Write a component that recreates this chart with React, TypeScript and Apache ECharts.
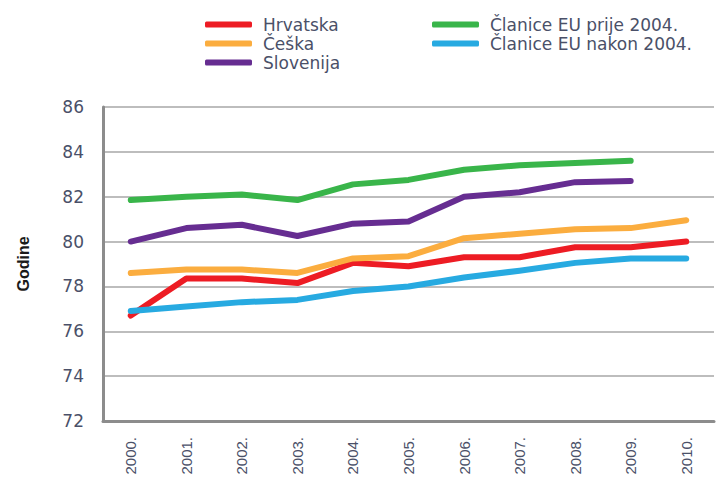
import React, { useEffect, useRef } from "react";
import * as echarts from "echarts";

const years = ["2000.", "2001.", "2002.", "2003.", "2004.", "2005.", "2006.", "2007.", "2008.", "2009.", "2010."];
const hrvatska = [76.7, 78.35, 78.35, 78.15, 79.05, 78.9, 79.3, 79.3, 79.75, 79.75, 80.0];
const ceska = [78.6, 78.75, 78.75, 78.6, 79.25, 79.35, 80.15, 80.35, 80.55, 80.6, 80.95];
const slovenija = [80.0, 80.6, 80.75, 80.25, 80.8, 80.9, 82.0, 82.2, 82.65, 82.7, null];
const euPrije = [81.85, 82.0, 82.1, 81.85, 82.55, 82.75, 83.2, 83.4, 83.5, 83.6, null];
const euNakon = [76.9, 77.1, 77.3, 77.4, 77.8, 78.0, 78.4, 78.7, 79.05, 79.25, 79.25];

const names = ["Hrvatska", "Češka", "Slovenija", "Članice EU prije 2004.", "Članice EU nakon 2004."];
const colors = ["#ed1c24", "#fbad3f", "#662d91", "#39b54a", "#27aae1"];

export default function App() {
  const ref = useRef<HTMLDivElement>(null);
  useEffect(() => {
    if (!ref.current) return;
    const chart = echarts.init(ref.current, undefined, { renderer: "svg" });
    const values = [hrvatska, ceska, slovenija, euPrije, euNakon];
    const legendText = {
      fontFamily: "DejaVu Sans",
      fontSize: 17,
      color: "#4a5068",
      padding: [0, 0, 0, 6],
    };
    const legendBase = {
      orient: "vertical",
      top: 11,
      icon: "roundRect",
      itemWidth: 47,
      itemHeight: 6,
      itemGap: 2,
      textStyle: legendText,
    };
    chart.setOption({
      animation: false,
      grid: { left: 103, top: 107, right: 9, bottom: 57 },
      legend: [
        { ...legendBase, data: names.slice(0, 3), left: 200 },
        { ...legendBase, data: names.slice(3), left: 427 },
      ],
      xAxis: {
        type: "category",
        data: years,
        boundaryGap: true,
        axisLine: { show: true, lineStyle: { color: "#8c8c8c", width: 3 } },
        axisTick: { show: false },
        axisLabel: {
          rotate: 90,
          margin: 16,
          interval: 0,
          fontFamily: "Liberation Sans",
          fontSize: 15,
          color: "#4a5068",
        },
        splitLine: { show: false },
      },
      yAxis: {
        type: "value",
        min: 72,
        max: 86,
        interval: 2,
        name: "Godine",
        nameLocation: "middle",
        nameRotate: 90,
        nameGap: 72,
        nameTextStyle: {
          fontFamily: "Liberation Sans Narrow, Liberation Sans",
          fontWeight: "bold",
          fontSize: 16,
          color: "#1a1a1a",
        },
        axisLine: { show: true, lineStyle: { color: "#8c8c8c", width: 3 } },
        axisTick: { show: false },
        axisLabel: {
          margin: 19,
          fontFamily: "DejaVu Sans",
          fontSize: 17,
          color: "#4a5068",
        },
        splitLine: { show: true, lineStyle: { color: "#bdbdbd", width: 2 } },
      },
      series: names.map((n, i) => ({
        name: n,
        type: "line",
        data: values[i],
        symbol: "none",
        color: colors[i],
        lineStyle: { width: 6, color: colors[i], cap: "round", join: "round" },
      })),
    });
    return () => chart.dispose();
  }, []);
  return <div ref={ref} style={{ width: 723, height: 478, position: "absolute", left: 0, top: 0 }} />;
}
